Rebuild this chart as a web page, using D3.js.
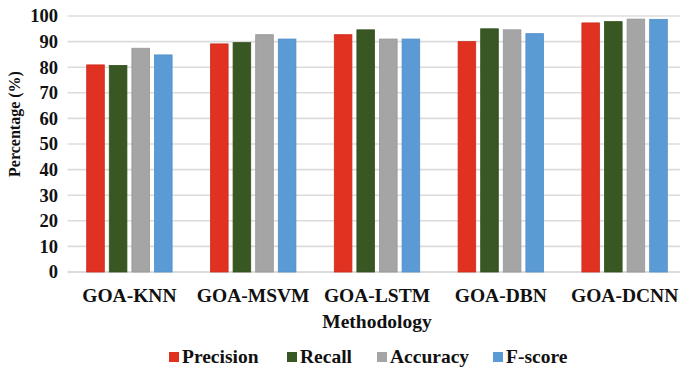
<!DOCTYPE html>
<html>
<head>
<meta charset="utf-8">
<script src="https://cdn.jsdelivr.net/npm/d3@7"></script>
</head>
<body style="margin:0;padding:0;background:#fff">
<svg id="chart" width="680" height="373" style="display:block"></svg>
<script>
// Methods compared and the four scores for each
const methods = ["GOA-KNN", "GOA-MSVM", "GOA-LSTM", "GOA-DBN", "GOA-DCNN"];
const seriesNames = ["Precision", "Recall", "Accuracy", "F-score"];
const seriesColors = ["#e03121", "#385723", "#a5a5a5", "#5b9bd5"];
const precision = [80.9, 89.1, 92.7, 90.0, 97.3];
const recall    = [80.7, 89.6, 94.6, 95.0, 97.8];
const accuracy  = [87.4, 92.7, 91.0, 94.6, 98.8];
const fscore    = [84.8, 91.0, 91.0, 93.1, 98.7];
const yTicks = [0, 10, 20, 30, 40, 50, 60, 70, 80, 90, 100];

const seriesValues = [precision, recall, accuracy, fscore];
const FONT = "Liberation Serif";

const svg = d3.select("#chart");
const plot = { left: 67.5, right: 686.5, top: 16, bottom: 272 };

const x0 = d3.scaleBand().domain(methods).range([plot.left, plot.right])
  .paddingInner(0.31).paddingOuter(0.155);
const x1 = d3.scaleBand().domain(seriesNames).range([0, x0.bandwidth()]).paddingInner(0.22);
const y = d3.scaleLinear().domain([0, 100]).range([plot.bottom, plot.top]);

function styleText(sel, size) {
  sel.attr("font-family", FONT)
    .attr("font-weight", "bold")
    .attr("font-size", size)
    .attr("fill", "#111")
    .style("font-family", FONT)
    .style("font-weight", "bold")
    .style("font-size", size + "px");
}

// horizontal gridlines
svg.append("g")
  .selectAll("line")
  .data(yTicks)
  .join("line")
  .attr("x1", plot.left).attr("x2", 680)
  .attr("y1", d => y(d)).attr("y2", d => y(d))
  .attr("stroke", d => d === 0 ? "#cfcfcf" : "#dcdcdc")
  .attr("stroke-width", 1.6);

// y axis labels
const yAxis = d3.axisLeft(y).tickValues(yTicks).tickSize(0).tickPadding(0);
const gy = svg.append("g").attr("transform", "translate(58,0)").call(yAxis);
gy.select(".domain").remove();
gy.attr("font-family", FONT);
styleText(gy.selectAll("text"), 18.5);

// bars
const groups = svg.append("g").selectAll("g")
  .data(methods)
  .join("g")
  .attr("transform", d => `translate(${x0(d)},0)`);

groups.selectAll("rect")
  .data((m, i) => seriesNames.map((s, j) => ({ s, j, v: seriesValues[j][i] })))
  .join("rect")
  .attr("x", d => x1(d.s))
  .attr("width", x1.bandwidth())
  .attr("y", d => y(d.v))
  .attr("height", d => y(0) - y(d.v))
  .attr("fill", d => seriesColors[d.j])
  .attr("stroke", d => d3.color(seriesColors[d.j]).darker(0.25))
  .attr("stroke-width", 0.8);

// x category labels
const xAxis = d3.axisBottom(x0).tickSize(0).tickPadding(0);
const gx = svg.append("g").attr("transform", `translate(0,${plot.bottom + 16})`).call(xAxis);
gx.select(".domain").remove();
gx.attr("font-family", FONT);
styleText(gx.selectAll("text"), 19.5);

// axis titles
svg.append("text")
  .attr("x", (plot.left + plot.right) / 2)
  .attr("y", 328)
  .attr("text-anchor", "middle")
  .call(styleText, 19.5)
  .text("Methodology");

svg.append("text")
  .attr("transform", "translate(20,124) rotate(-90)")
  .attr("text-anchor", "middle")
  .call(styleText, 16)
  .text("Percentage (%)");

// legend
const legendX = [169, 287, 377, 493];
const legend = svg.append("g").selectAll("g")
  .data(seriesNames)
  .join("g")
  .attr("transform", (d, i) => `translate(${legendX[i]},358)`);
legend.append("rect")
  .attr("x", 0).attr("y", -6).attr("width", 10).attr("height", 10)
  .attr("fill", (d, i) => seriesColors[i]);
legend.append("text")
  .attr("x", 13).attr("y", 5)
  .call(styleText, 19.5)
  .text(d => d);
</script>
</body>
</html>
